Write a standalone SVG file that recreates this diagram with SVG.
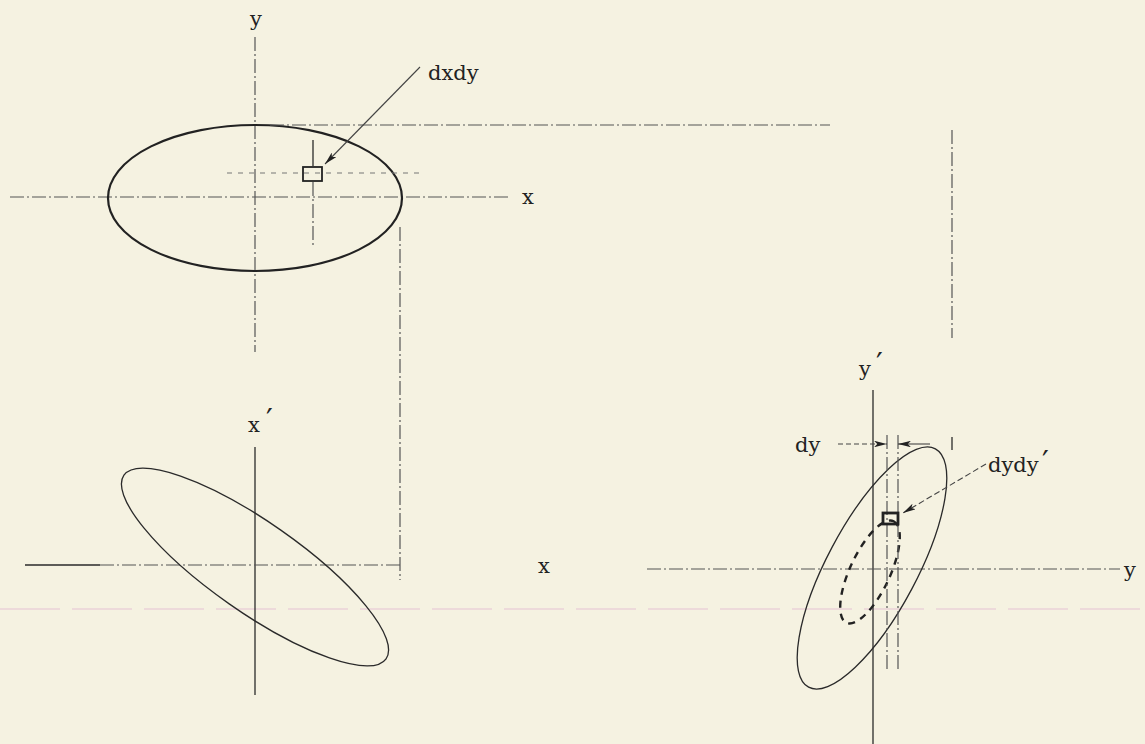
<svg xmlns="http://www.w3.org/2000/svg" width="1145" height="744" viewBox="0 0 1145 744">
<style>
.bg{fill:#f5f2e1}
.txt{font-family:"DejaVu Serif","Liberation Serif",serif;font-size:21px;fill:#222}
.prime{font-family:"DejaVu Sans","Liberation Sans",sans-serif;font-size:30px;fill:#222}
.solid{fill:none;stroke:#2a2a2a;stroke-width:1.3}
.thick{fill:none;stroke:#222;stroke-width:2.2}
.dd{fill:none;stroke:#555;stroke-width:1.2;stroke-dasharray:14 3 2 3}
.dot{fill:none;stroke:#777;stroke-width:1.2;stroke-dasharray:5 6}
.inner{fill:none;stroke:#222;stroke-width:2.4;stroke-dasharray:7 6}
.lead{fill:none;stroke:#444;stroke-width:1.1}
.pink{fill:none;stroke:#ead2d8;stroke-width:1.5;stroke-dasharray:60 12}
</style>
<defs>
<marker id="ah" viewBox="0 0 12 6" refX="12" refY="3" markerWidth="13" markerHeight="6.5" markerUnits="userSpaceOnUse" orient="auto">
<path d="M0,0 L12,3 L0,6 L3,3 Z" fill="#222"/>
</marker>
</defs>
<rect class="bg" x="0" y="0" width="1145" height="744"/>
<line class="pink" x1="0" y1="609" x2="1145" y2="609"/>

<g id="top-panel">
<line class="dd" x1="255" y1="37" x2="255" y2="352"/>
<line class="dd" x1="10" y1="197" x2="510" y2="197"/>
<ellipse class="thick" cx="255" cy="198" rx="147" ry="73"/>
<text class="txt" x="250" y="26">y</text>
<text class="txt" x="522" y="204">x</text>
<line class="dot" x1="227" y1="173" x2="420" y2="173"/>
<line class="solid" x1="313" y1="140" x2="313" y2="166"/>
<line class="dd" x1="313" y1="182" x2="313" y2="247"/>
<rect x="303" y="167" width="19" height="14" fill="none" stroke="#222" stroke-width="1.8"/>
<line class="dd" x1="270" y1="125" x2="830" y2="125"/>
<line class="dd" x1="400" y1="227" x2="400" y2="580"/>
<line class="dd" x1="952" y1="130" x2="952" y2="338"/>
<text class="txt" x="428" y="80">dxdy</text>
</g>

<g id="bottom-left-panel">
<line class="solid" x1="255" y1="447" x2="255" y2="695"/>
<line class="solid" x1="25" y1="565" x2="100" y2="565"/>
<line class="dd" x1="100" y1="565" x2="400" y2="565"/>
<ellipse class="solid" cx="255" cy="567" rx="160" ry="45" transform="rotate(35 255 567)"/>
<text class="txt" x="248" y="432">x</text>
<text class="prime" x="266" y="430">′</text>
<text class="txt" x="538" y="573">x</text>
</g>

<g id="bottom-right-panel">
<line class="solid" x1="873" y1="390" x2="873" y2="744"/>
<line class="dd" x1="647" y1="569" x2="1120" y2="569"/>
<ellipse class="solid" cx="872" cy="568" rx="135" ry="45" transform="rotate(-62 872 568)"/>
<ellipse class="inner" cx="870" cy="572" rx="56" ry="20" transform="rotate(-65 870 572)"/>
<line class="dd" x1="887" y1="435" x2="887" y2="670"/>
<line class="dd" x1="898" y1="435" x2="898" y2="670"/>
<line class="solid" x1="952" y1="437" x2="952" y2="450"/>
<rect x="883" y="513" width="15" height="11" fill="none" stroke="#222" stroke-width="2.8"/>
<text class="txt" x="859" y="376">y</text>
<text class="prime" x="876" y="374">′</text>
<text class="txt" x="1124" y="577">y</text>
<text class="txt" x="795" y="452">dy</text>
<text class="txt" x="988" y="472">dydy</text>
<text class="prime" x="1042" y="472">′</text>
</g>

<g id="connectors">
<line class="lead" x1="420" y1="67" x2="325" y2="164" marker-end="url(#ah)"/>
<line class="lead" x1="986" y1="464" x2="903" y2="513" stroke-dasharray="6 3" marker-end="url(#ah)"/>
<line class="lead" x1="838" y1="444" x2="887" y2="444" stroke-dasharray="5 3" marker-end="url(#ah)"/>
<line class="lead" x1="930" y1="444" x2="898" y2="444" marker-end="url(#ah)"/>
</g>
</svg>
